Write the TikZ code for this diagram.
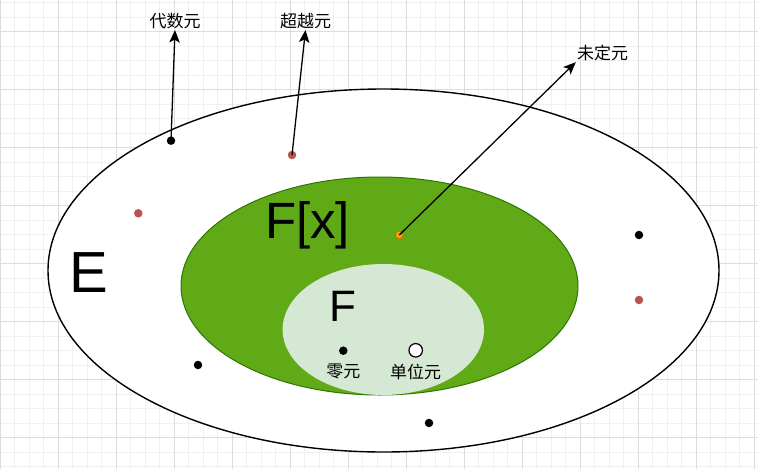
\documentclass[tikz,border=0pt]{standalone}
\usepackage{fontspec}
\setmainfont{Liberation Sans}
\newfontfamily\cjk{Noto Sans CJK SC}
\usetikzlibrary{arrows.meta}
\definecolor{gridmajor}{HTML}{DDDDDD}
\definecolor{gridminor}{HTML}{F0F0F0}
\definecolor{fxfill}{HTML}{60A917}
\definecolor{fxline}{HTML}{2D7600}
\definecolor{ffill}{HTML}{D5E8D4}
\definecolor{reddot}{HTML}{B85450}
\definecolor{orangefill}{HTML}{F0A30A}
\definecolor{orangeline}{HTML}{BD7000}
\begin{document}
\begin{tikzpicture}[x=1pt,y=-1pt,
 dot/.style={circle,fill=black,inner sep=0pt,minimum size=8.5pt},
 rdot/.style={circle,fill=reddot,inner sep=0pt,minimum size=8.5pt},
 odot/.style={circle,fill=orangefill,draw=orangeline,line width=0.8pt,inner sep=0pt,minimum size=8pt},
 wdot/.style={circle,fill=white,draw=black,line width=1.2pt,inner sep=0pt,minimum size=13.5pt},
 lbl/.style={font=\cjk\fontsize{17}{20}\selectfont,inner sep=1pt},
 big/.style={inner sep=0pt},
 arr/.style={line width=1.3pt,-{Stealth[length=12.5pt,width=10.5pt,inset=3pt]}},
 minorline/.style={draw=gridminor,line width=0.8pt},
 majorline/.style={draw=gridmajor,line width=0.8pt},
]
\useasboundingbox (0,0) rectangle (758,469);
\fill[white] (0,0) rectangle (758,469);
% grid
\foreach \i in {0,...,52} {
  \pgfmathtruncatemacro{\m}{mod(\i,4)}
  \ifnum\m=0 \else \draw[minorline] (\i*14.5,0) -- (\i*14.5,469); \fi
}
\foreach \j in {0,...,32} {
  \pgfmathtruncatemacro{\m}{mod(\j,4)}
  \ifnum\m=2 \else \draw[minorline] (0,2.7+\j*14.5) -- (758,2.7+\j*14.5); \fi
}
\foreach \i in {0,...,13} \draw[majorline] (\i*58,0) -- (\i*58,469);
\foreach \j in {0,...,7} \draw[majorline] (0,31.7+\j*58) -- (758,31.7+\j*58);

% ellipses
\draw[fill=white,line width=1.4pt] (383.5,270.5) ellipse [x radius=335.5pt, y radius=181.5pt];
\draw[fill=fxfill,draw=fxline,line width=1pt] (379.5,286) ellipse [x radius=198.5pt, y radius=109pt];
\fill[ffill] (383.3,329.5) ellipse [x radius=100.7pt, y radius=65.5pt];

% big labels
\node[big,font=\fontsize{58}{58}\selectfont] (E) at (88.5,272.5) {E};
\node[big,font=\fontsize{51}{51}\selectfont] (Fx) at (307.5,225) {F[x]};
\node[big,font=\fontsize{44}{44}\selectfont] (F) at (342.5,306.5) {F};

% dots
\node[dot] (alg) at (171,140.7) {};
\node[rdot] (tr) at (292,155) {};
\node[rdot] (r1) at (138.3,213.3) {};
\node[dot] (b1) at (639,235) {};
\node[rdot] (r2) at (639,300) {};
\node[dot] (b2) at (198,365) {};
\node[dot] (b3) at (429,423) {};
\node[odot] (ind) at (399.3,235) {};
\node[dot] (zero) at (343.3,350.7) {};
\node[wdot] (one) at (415.7,350.3) {};

% small labels
\node[lbl] (lalg) at (175,21) {代数元};
\node[lbl] (ltr) at (305.5,21) {超越元};
\node[lbl] (lind) at (602.5,53) {未定元};
\node[lbl] (lzero) at (343.3,371.5) {零元};
\node[lbl] (lone) at (415.7,371.5) {单位元};

% arrows
\draw[arr] (alg.center) -- (lalg.south);
\draw[arr] (tr.center) -- (ltr.south);
\draw[arr] (ind.center) -- (lind.south west);
\end{tikzpicture}
\end{document}
